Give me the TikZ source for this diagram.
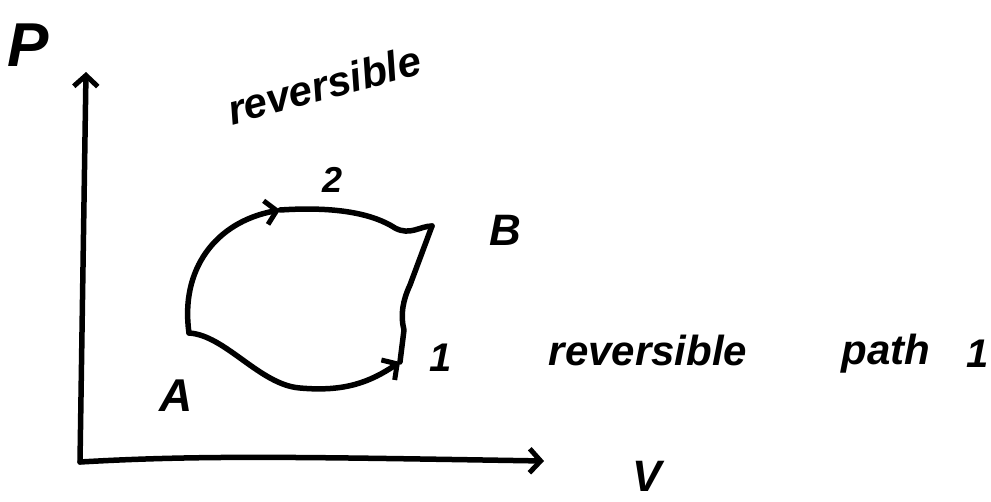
\documentclass[tikz,border=0pt]{standalone}
\usepackage{fontspec}
\setmainfont{Liberation Sans}
\usetikzlibrary{arrows.meta}
\begin{document}
\begin{tikzpicture}[x=1pt,y=-1pt,
  ink/.style={line width=5.5pt,line cap=round,line join=round},
  barb/.style={-{Straight Barb[length=11pt,width=24pt,line width=5pt]}},
  hand/.style={font=\bfseries\itshape,inner sep=0pt}]
\useasboundingbox (0,0) rectangle (991,501);
% axes
\coordinate (O) at (80,462);
\coordinate (Ytop) at (86,72);
\coordinate (Xend) at (544,461);
\draw[ink,barb] (O) -- (Ytop);
\draw[ink,barb] (O) .. controls (200,455) and (300,457) .. (Xend);
\node[hand,font=\bfseries\itshape\fontsize{62}{62}\selectfont] (P) at (28,45) {P};
\node[hand,font=\bfseries\itshape\fontsize{44}{44}\selectfont] (V) at (647,476) {V};
% states
\coordinate (A) at (189,333);
\coordinate (B) at (432,226);
\coordinate (M2) at (280,210);
\coordinate (C1) at (400,362);
% path 2 (upper)
\draw[ink,barb] (A) .. controls (180,270) and (215,222) .. (M2);
\draw[ink] (M2) .. controls (340,206) and (375,215) .. (395,228)
  .. controls (410,236) and (420,226) .. (B);
% path 1 (lower)
\draw[ink,barb] (A) .. controls (225,335) and (260,385) .. (300,388)
  .. controls (345,392) and (370,382) .. (C1);
\draw[ink] (C1) -- (404,330) .. controls (400,315) and (403,300) .. (410,285) -- (B);
% labels
\node[hand,font=\bfseries\itshape\fontsize{46}{46}\selectfont] (LA) at (176,396) {A};
\node[hand,font=\bfseries\itshape\fontsize{44}{44}\selectfont] (LB) at (505,230) {B};
\node[hand,font=\bfseries\itshape\fontsize{36}{36}\selectfont] (L2) at (333,180) {2};
\node[hand,font=\bfseries\itshape\fontsize{40}{40}\selectfont] (L1) at (441,358) {1};
\node[hand,font=\bfseries\itshape\fontsize{42}{42}\selectfont,rotate=15] (R2) at (324,85) {reversible};
\node[hand,font=\bfseries\itshape\fontsize{42}{42}\selectfont] (R1) at (648,350) {reversible};
\node[hand,font=\bfseries\itshape\fontsize{42}{42}\selectfont] (Pa) at (886,354) {path};
\node[hand,font=\bfseries\itshape\fontsize{40}{40}\selectfont] (P1) at (978,354) {1};
\end{tikzpicture}
\end{document}
